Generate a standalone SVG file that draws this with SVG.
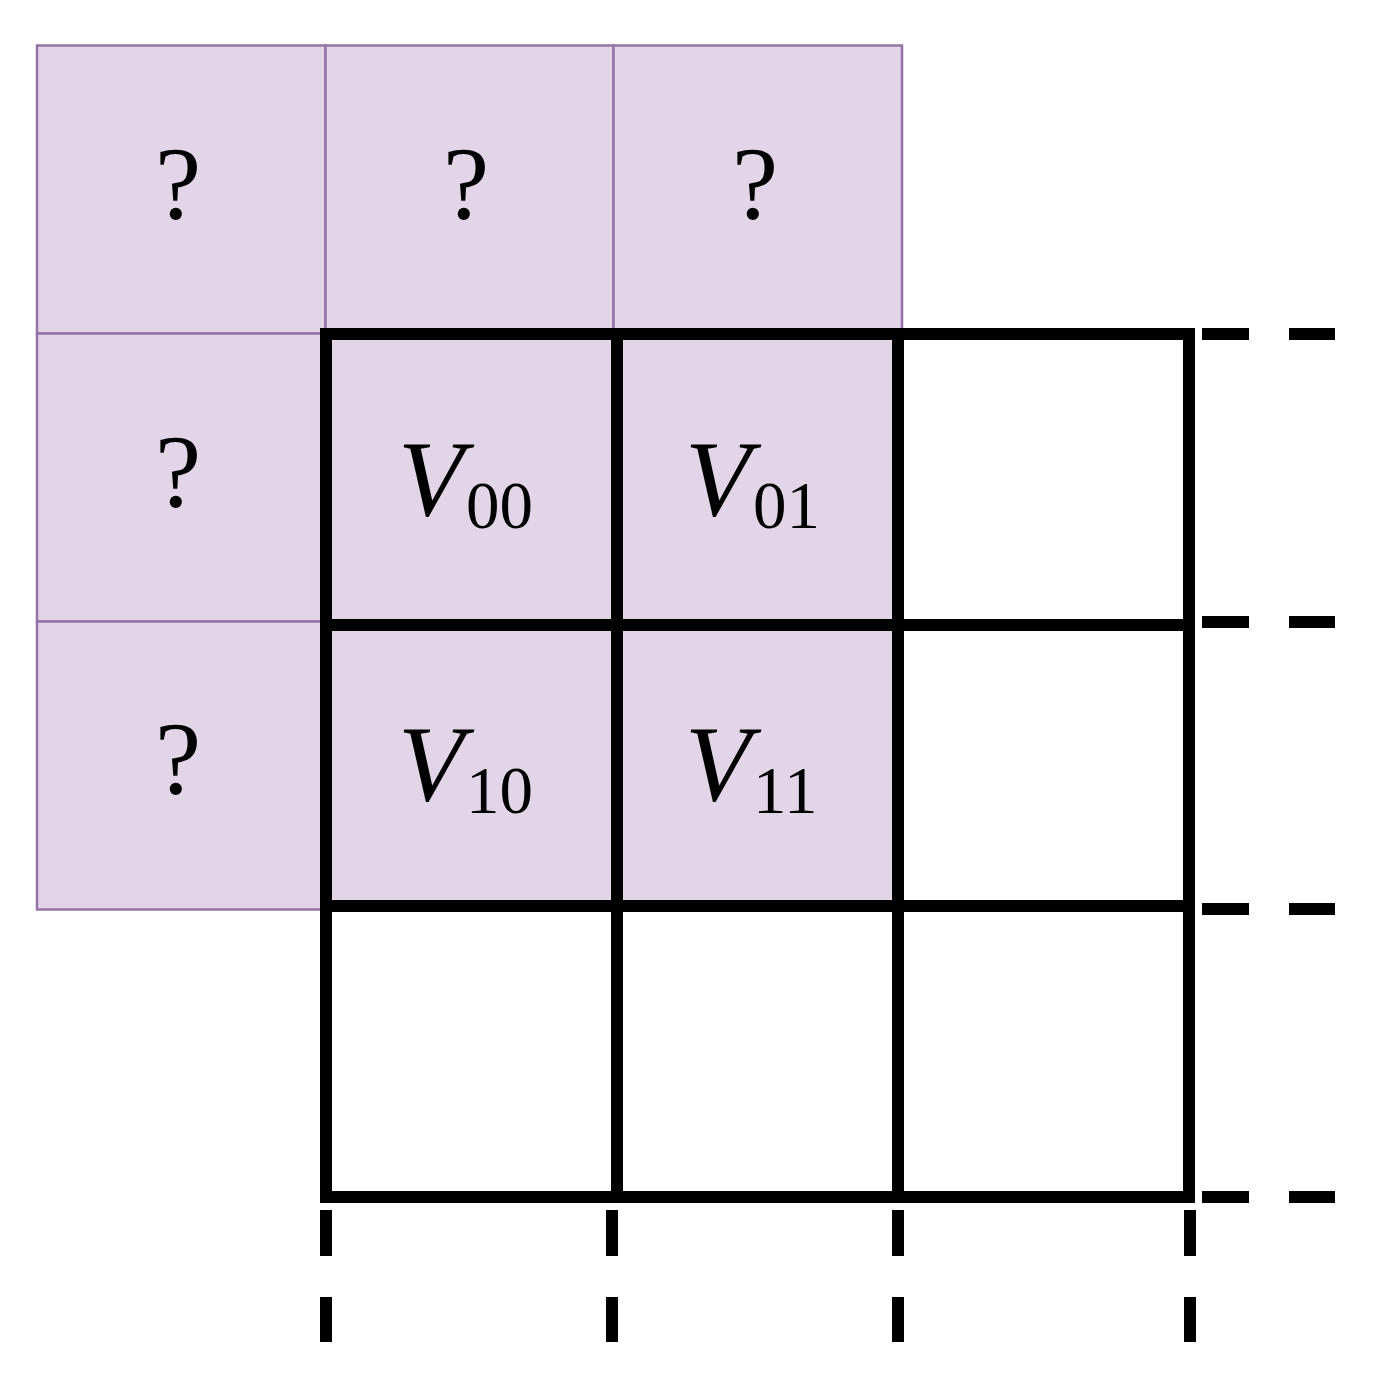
<svg xmlns="http://www.w3.org/2000/svg" width="1380" height="1384" viewBox="0 0 1380 1384">
<style>
.pc{fill:#e1d5e7;stroke:#9673a6;stroke-width:2.5}
.pf{fill:#e1d5e7;stroke:none}
.q{font-family:"Liberation Serif",serif;font-size:104px;text-anchor:middle;fill:#000}
.v{font-family:"Liberation Serif",serif;font-size:108px;font-style:italic;fill:#000}
.s{font-size:67px;font-style:normal}
.g{stroke:#000;stroke-width:12;fill:none;stroke-linecap:square}
.d{stroke:#000;stroke-width:12;fill:none}
</style>
<rect width="1380" height="1384" fill="#fff"/>
<g id="unknown-cells">
  <g id="q00"><rect class="pc" x="37" y="45.5" width="288.5" height="288"/><text class="q" x="178" y="219">?</text></g>
  <g id="q01"><rect class="pc" x="325.5" y="45.5" width="288" height="288"/><text class="q" x="466" y="219">?</text></g>
  <g id="q02"><rect class="pc" x="613.5" y="45.5" width="288.5" height="288"/><text class="q" x="755" y="219">?</text></g>
  <g id="q10"><rect class="pc" x="37" y="333.5" width="288.5" height="288"/><text class="q" x="178" y="507">?</text></g>
  <g id="q20"><rect class="pc" x="37" y="621.5" width="288.5" height="288"/><text class="q" x="178" y="794">?</text></g>
</g>
<g id="value-cells">
  <rect class="pf" x="326" y="334" width="572" height="572"/>
  <g id="v00"><text class="v" x="398" y="515">V<tspan class="s" dx="2" dy="13">00</tspan></text></g>
  <g id="v01"><text class="v" x="685" y="515">V<tspan class="s" dx="2" dy="13">01</tspan></text></g>
  <g id="v10"><text class="v" x="398" y="800">V<tspan class="s" dx="2" dy="13">10</tspan></text></g>
  <g id="v11"><text class="v" x="685" y="800">V<tspan class="s" dx="2" dy="13">11</tspan></text></g>
</g>
<g id="grid">
  <path class="g" d="M326 334H1189V1197H326Z"/>
  <path class="g" d="M617 334V1197M898 334V1197M326 625H1189M326 906H1189"/>
</g>
<g id="continuation-dashes">
  <path class="d" d="M1202 334H1249M1289 334H1335M1202 622H1249M1289 622H1335M1202 909H1249M1289 909H1335M1202 1197H1249M1289 1197H1335"/>
  <path class="d" d="M326 1210V1256M326 1297V1342M612 1210V1256M612 1297V1342M898 1210V1256M898 1297V1342M1190 1210V1256M1190 1297V1342"/>
</g>
</svg>
